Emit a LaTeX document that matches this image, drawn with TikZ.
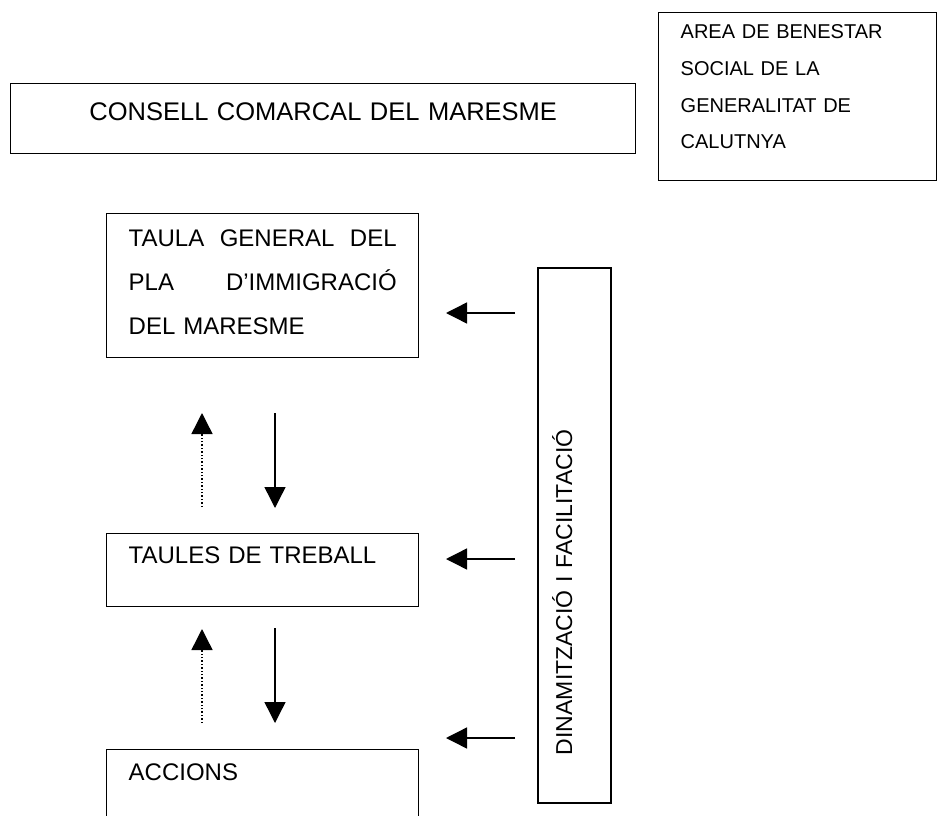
\documentclass[tikz,border=0pt]{standalone}
\usepackage{fontspec}
\setmainfont{Liberation Sans}
\usetikzlibrary{arrows.meta}

\tikzset{
  box/.style={draw, line width=1.4pt, rectangle, anchor=north west, inner xsep=22pt, inner ysep=0pt, align=left},
  down/.style={line width=1.4pt, -{Triangle[width=21pt,length=21pt]}},
  up/.style={down, dotted}
}

\begin{document}
\begin{tikzpicture}[x=1pt, y=-1pt]
  \useasboundingbox (0,0) rectangle (937,816);
  \clip (0,0) rectangle (937,816);

  \node[box, align=center, text width=581pt, text height=37pt, text depth=33pt, font=\fontsize{25.5}{30}\selectfont] (consell) at (10,83) {CONSELL COMARCAL DEL MARESME};
  \node[box, text width=234pt, text height=26pt, text depth=142pt, font=\fontsize{20}{36.7}\selectfont] (area) at (658,12) {AREA DE BENESTAR\\SOCIAL DE LA\\GENERALITAT DE\\CALUTNYA};

  \node[box, text width=268pt, text height=33pt, text depth=111pt, font=\fontsize{24}{44}\selectfont] (taula) at (106,213) {TAULA\hfill GENERAL\hfill DEL\\PLA\hfill D'IMMIGRACIÓ\\DEL MARESME};
  \node[box, text width=268pt, text height=30pt, text depth=43pt, font=\fontsize{24}{44}\selectfont] (taules) at (106,533) {TAULES DE TREBALL};
  \node[box, text width=268pt, text height=31pt, text depth=60pt, font=\fontsize{24}{44}\selectfont] (accions) at (106,749) {ACCIONS};

  \node[draw, line width=1.4pt, rotate=90, inner xsep=48pt, inner ysep=0pt, text width=439pt, align=left, text height=34pt, text depth=39pt, font=\fontsize{23}{28}\selectfont] (din) at (574.5,535.5) {DINAMITZACIÓ I FACILITACIÓ};

  \coordinate (d1s) at (275,413);
  \coordinate (d1e) at (275,508);
  \coordinate (u1s) at (202,507);
  \coordinate (u1e) at (202,413);
  \coordinate (d2s) at (275,628);
  \coordinate (d2e) at (275,723);
  \coordinate (u2s) at (202,723);
  \coordinate (u2e) at (202,629);

  \coordinate (h1s) at (515,313);
  \coordinate (h1e) at (446,313);
  \coordinate (h2s) at (515,559);
  \coordinate (h2e) at (446,559);
  \coordinate (h3s) at (515,738);
  \coordinate (h3e) at (446,738);

  \draw[down] (d1s) -- (d1e);
  \draw[up] (u1s) -- (u1e);
  \draw[down] (d2s) -- (d2e);
  \draw[up] (u2s) -- (u2e);

  \draw[down] (h1s) -- (h1e);
  \draw[down] (h2s) -- (h2e);
  \draw[down] (h3s) -- (h3e);
\end{tikzpicture}
\end{document}
